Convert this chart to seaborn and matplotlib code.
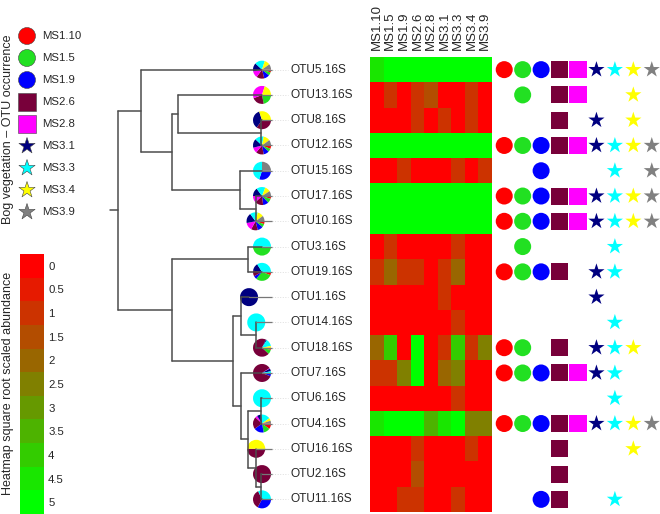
import numpy as np
import pandas as pd
import matplotlib
matplotlib.use("Agg")
import matplotlib.pyplot as plt
from matplotlib.colors import ListedColormap
from matplotlib.patches import Wedge
from matplotlib.transforms import ScaledTranslation
import seaborn as sns

# leaves, top to bottom
otus = ["OTU5.16S", "OTU13.16S", "OTU8.16S", "OTU12.16S", "OTU15.16S",
        "OTU17.16S", "OTU10.16S", "OTU3.16S", "OTU19.16S", "OTU1.16S",
        "OTU14.16S", "OTU18.16S", "OTU7.16S", "OTU6.16S", "OTU4.16S",
        "OTU16.16S", "OTU2.16S", "OTU11.16S"]

samples = ["MS1.10", "MS1.5", "MS1.9", "MS2.6", "MS2.8",
           "MS3.1", "MS3.3", "MS3.4", "MS3.9"]
sample_colors = ["#ff0000", "#22e022", "#0000ff", "#78003a", "#ff00ff",
                 "#000080", "#00ffff", "#ffff00", "#808080"]
sample_markers = ["o", "o", "o", "s", "s", "*", "*", "*", "*"]
sample_sizes = [150, 150, 150, 150, 150, 150, 150, 150, 150]

# square root scaled abundance (heatmap)
abundance = [
    [4.5, 5, 5, 5, 5, 5, 5, 5, 5],
    [0, 1, 0, 1, 1.5, 0, 0, 1, 0],
    [0, 0, 0, 1, 0, 1, 0, 1, 0],
    [5, 5, 5, 5, 5, 5, 5, 5, 5],
    [0, 0, 1, 0, 0, 0, 1, 0, 1],
    [5, 5, 5, 5, 5, 5, 5, 5, 5],
    [5, 5, 5, 5, 5, 5, 5, 5, 5],
    [0, 1, 0, 0, 0, 0, 1, 0, 0],
    [1, 2, 1, 1, 0, 1, 2, 0, 0],
    [0, 0, 0, 0, 0, 1, 0, 0, 0],
    [0, 0, 0, 0, 0, 0, 1, 0, 0],
    [2, 4, 0, 5, 0, 1, 4, 1, 2.5],
    [1, 1, 2.5, 5, 0, 2, 2.5, 0, 0],
    [0, 0, 0, 0, 0, 0, 1, 0, 0],
    [4.5, 5, 5, 5, 3.5, 4.5, 5, 2.5, 2.5],
    [0, 0, 0, 1, 0, 0, 0, 1, 0],
    [0, 0, 0, 1.5, 0, 0, 0, 0, 0],
    [0, 0, 1, 1, 0, 0, 1, 0, 0],
]

# presence in bog vegetation samples
occurrence = [
    [1, 1, 1, 1, 1, 1, 1, 1, 1],
    [0, 1, 0, 1, 1, 0, 0, 1, 0],
    [0, 0, 0, 1, 0, 1, 0, 1, 0],
    [1, 1, 1, 1, 1, 1, 1, 1, 1],
    [0, 0, 1, 0, 0, 0, 1, 0, 1],
    [1, 1, 1, 1, 1, 1, 1, 1, 1],
    [1, 1, 1, 1, 1, 1, 1, 1, 1],
    [0, 1, 0, 0, 0, 0, 1, 0, 0],
    [1, 1, 1, 1, 0, 1, 1, 0, 0],
    [0, 0, 0, 0, 0, 1, 0, 0, 0],
    [0, 0, 0, 0, 0, 0, 1, 0, 0],
    [1, 1, 0, 1, 0, 1, 1, 1, 0],
    [1, 1, 1, 1, 1, 1, 1, 0, 0],
    [0, 0, 0, 0, 0, 0, 1, 0, 0],
    [1, 1, 1, 1, 1, 1, 1, 1, 1],
    [0, 0, 0, 1, 0, 0, 0, 1, 0],
    [0, 0, 0, 1, 0, 0, 0, 0, 0],
    [0, 0, 1, 1, 0, 0, 1, 0, 0],
]

# pie shares per sample at the tips
pie_share = [
    [5, 6, 10, 14, 12, 15, 18, 10, 10],
    [0, 22, 0, 22, 36, 0, 0, 20, 0],
    [0, 0, 0, 35, 0, 35, 0, 30, 0],
    [6, 6, 10, 14, 10, 16, 16, 12, 10],
    [0, 0, 30, 0, 0, 0, 45, 0, 25],
    [5, 8, 10, 15, 12, 15, 16, 10, 9],
    [5, 6, 10, 12, 14, 18, 14, 11, 10],
    [0, 50, 0, 0, 0, 0, 50, 0, 0],
    [6, 30, 6, 10, 0, 14, 34, 0, 0],
    [0, 0, 0, 0, 0, 100, 0, 0, 0],
    [0, 0, 0, 0, 0, 0, 100, 0, 0],
    [4, 8, 0, 70, 0, 2, 13, 3, 0],
    [1, 1, 4, 85, 1, 5, 3, 0, 0],
    [0, 0, 0, 0, 0, 0, 100, 0, 0],
    [10, 12, 18, 22, 4, 8, 16, 5, 5],
    [0, 0, 0, 50, 0, 0, 0, 50, 0],
    [0, 0, 0, 100, 0, 0, 0, 0, 0],
    [0, 0, 33, 35, 0, 0, 32, 0, 0],
]

# tree: tip depths and internal nodes (name, child a, child b, depth)
tip_depth = [1.0, 1.0, 1.0, 1.0, 1.0, 1.0, 0.955, 1.0, 1.0,
             0.91, 0.96, 1.0, 1.0, 1.0, 1.0, 0.96, 1.0, 1.0]
nodes = [
    ("n8_12", "OTU8.16S", "OTU12.16S", 0.995),
    ("n13", "OTU13.16S", "n8_12", 0.42),
    ("n17_10", "OTU17.16S", "OTU10.16S", 0.955),
    ("n15", "OTU15.16S", "n17_10", 0.85),
    ("nA", "n13", "n15", 0.375),
    ("nTop", "OTU5.16S", "nA", 0.16),
    ("n3_19", "OTU3.16S", "OTU19.16S", 0.9),
    ("n14_18", "OTU14.16S", "OTU18.16S", 0.96),
    ("n1", "OTU1.16S", "n14_18", 0.855),
    ("n6_4", "OTU6.16S", "OTU4.16S", 0.995),
    ("n2_11", "OTU2.16S", "OTU11.16S", 0.995),
    ("n16", "OTU16.16S", "n2_11", 0.96),
    ("n64_16", "n6_4", "n16", 0.9),
    ("n7", "OTU7.16S", "n64_16", 0.855),
    ("n1_7", "n1", "n7", 0.8),
    ("nBot", "n3_19", "n1_7", 0.375),
    ("root", "nTop", "nBot", 0.0),
]
root_stub = -0.055

scale_levels = [0, 0.5, 1, 1.5, 2, 2.5, 3, 3.5, 4, 4.5, 5]


def main():
    sns.set_style("white")
    plt.rcParams["font.family"] = ["Liberation Sans", "DejaVu Sans"]

    W, H = 660, 514
    fig = plt.figure(figsize=(W / 100, H / 100), dpi=100)

    def px_axes(x0, y0, x1, y1):
        return fig.add_axes([x0 / W, 1 - y1 / H, (x1 - x0) / W, (y1 - y0) / H])

    heat_colors = [(1 - k / 10, k / 10, 0) for k in range(11)]
    cmap = ListedColormap(heat_colors)

    # heatmap
    ax_hm = px_axes(370, 57, 492, 512)
    hm = pd.DataFrame(abundance, index=otus, columns=samples)
    sns.heatmap(hm, ax=ax_hm, cmap=cmap, vmin=-0.25, vmax=5.25, cbar=False,
                yticklabels=False, xticklabels=samples)
    ax_hm.xaxis.tick_top()
    ax_hm.tick_params(axis="x", length=0, pad=5, labelsize=9.5, rotation=90)
    ax_hm.set_xlabel("")
    ax_hm.set_ylabel("")

    # dendrogram with pies
    ax_tr = px_axes(100, 57, 365, 512)
    ypos = {o: i + 0.5 for i, o in enumerate(otus)}
    xpos = dict(zip(otus, tip_depth))
    lc = "#4d4d4d"
    for name, a, b, d in nodes:
        ya, yb = ypos[a], ypos[b]
        ax_tr.plot([d, d], [ya, yb], color=lc, lw=1.1)
        ax_tr.plot([d, xpos[a]], [ya, ya], color=lc, lw=1.1)
        ax_tr.plot([d, xpos[b]], [yb, yb], color=lc, lw=1.1)
        ypos[name] = (ya + yb) / 2
        xpos[name] = d
    ax_tr.plot([root_stub, 0], [ypos["root"]] * 2, color=lc, lw=1.1)

    align_x = 1.07
    label_x = 1.2
    for i, otu in enumerate(otus):
        y = ypos[otu]
        ax_tr.plot([xpos[otu], align_x], [y, y], color="#777777", lw=0.9)
        ax_tr.plot([align_x, 1.18], [y, y], color="#dddddd", lw=0.7, ls=":")
        ax_tr.text(label_x, y, otu, va="center", ha="left", fontsize=8.6)

        share = np.array(pie_share[i], dtype=float)
        share = share / share.sum()
        trans = fig.dpi_scale_trans + ScaledTranslation(xpos[otu], y, ax_tr.transData)
        start = 0.0
        for frac, col in zip(share, sample_colors):
            if frac <= 0:
                continue
            w = Wedge((0, 0), 0.09, -(start + frac) * 360, -start * 360,
                      transform=trans, facecolor=col, lw=0, clip_on=False)
            ax_tr.add_artist(w)
            start += frac

    ax_tr.set_xlim(-0.125, (365 - 118) / 144)
    ax_tr.set_ylim(len(otus), 0)
    ax_tr.axis("off")

    # occurrence symbols
    rows = []
    for i, otu in enumerate(otus):
        for j, s in enumerate(samples):
            if occurrence[i][j]:
                rows.append({"col": j, "row": i + 0.5, "sample": s})
    occ = pd.DataFrame(rows)
    palette = dict(zip(samples, sample_colors))
    markers = dict(zip(samples, sample_markers))
    sizes = dict(zip(samples, sample_sizes))

    ax_oc = px_axes(495, 57, 661, 512)
    sns.scatterplot(data=occ, x="col", y="row", hue="sample", style="sample",
                    size="sample", palette=palette, markers=markers, sizes=sizes,
                    linewidth=0, legend=False, ax=ax_oc)
    ax_oc.set_xlim(-0.5, len(samples) - 0.5)
    ax_oc.set_ylim(len(otus), 0)
    ax_oc.axis("off")

    # legend of samples
    ax_lg = px_axes(12, 25, 100, 223)
    leg = pd.DataFrame({"x": [15] * len(samples), "y": range(len(samples)),
                        "sample": samples})
    sns.scatterplot(data=leg, x="x", y="y", hue="sample", style="sample",
                    size="sample", palette=palette, markers=markers, sizes=sizes,
                    edgecolor="#444444", linewidth=0.4, legend=False, ax=ax_lg)
    for k, s in enumerate(samples):
        ax_lg.text(30, k, s, va="center", ha="left", fontsize=8.2)
    ax_lg.set_xlim(0, 88)
    ax_lg.set_ylim(len(samples) - 0.5, -0.5)
    ax_lg.axis("off")

    # colour key
    ax_cb = px_axes(20, 254, 44, 514)
    key = pd.DataFrame({"v": scale_levels}, index=[f"{v:g}" for v in scale_levels])
    sns.heatmap(key, ax=ax_cb, cmap=cmap, vmin=-0.25, vmax=5.25, cbar=False,
                xticklabels=False, yticklabels=True)
    ax_cb.yaxis.tick_right()
    ax_cb.tick_params(axis="y", length=0, pad=3, labelsize=8.2, rotation=0)
    ax_cb.set_ylabel("")

    fig.text(8 / W, 1 - 129 / H, "Bog vegetation \u2013 OTU occurrence",
             rotation=90, ha="center", va="center", fontsize=9)
    fig.text(8 / W, 1 - 383 / H, "Heatmap square root scaled abundance",
             rotation=90, ha="center", va="center", fontsize=9)

    fig.savefig("out.png", dpi=100)


if __name__ == "__main__":
    main()
